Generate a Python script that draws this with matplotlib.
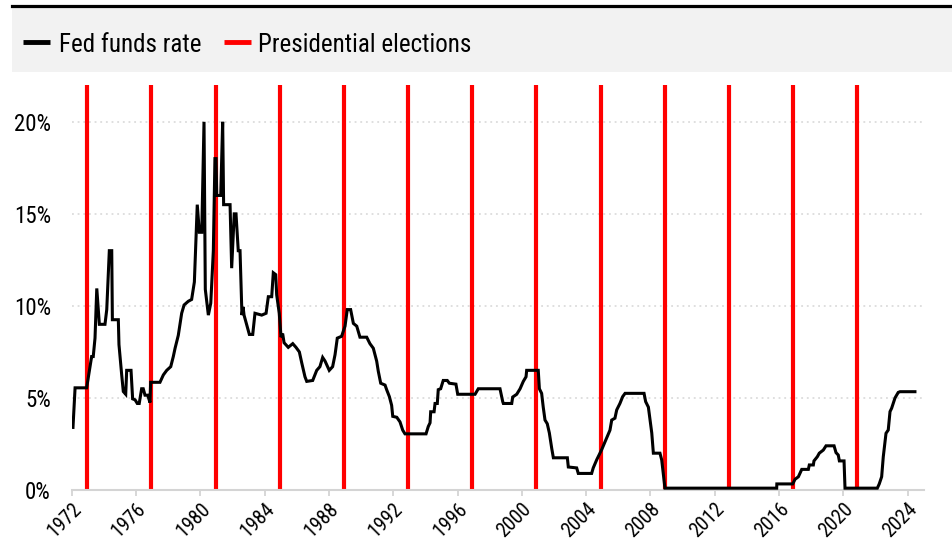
import matplotlib
matplotlib.use("Agg")
import matplotlib.pyplot as plt
from matplotlib import font_manager as fm
from matplotlib.lines import Line2D
from matplotlib.patches import Rectangle

# ---------------- data ----------------
dates = [1972.08, 1972.21, 1972.93, 1973.14, 1973.24, 1973.34, 1973.45, 1973.56, 1973.72,
         1974.07, 1974.18, 1974.34, 1974.49, 1974.53, 1974.90, 1974.94, 1975.11, 1975.21,
         1975.36, 1975.42, 1975.69, 1975.79, 1975.94, 1976.08, 1976.20, 1976.35, 1976.45,
         1976.56, 1976.73, 1976.87, 1976.91, 1977.49, 1977.70, 1977.91, 1978.16, 1978.32,
         1978.43, 1978.63, 1978.84, 1978.99, 1979.25, 1979.46, 1979.63, 1979.81, 1979.94,
         1980.09, 1980.23, 1980.31, 1980.50, 1980.65, 1980.81, 1980.91, 1980.98, 1981.02,
         1981.27, 1981.39, 1981.45, 1981.85, 1981.95, 1982.11, 1982.22, 1982.36, 1982.47,
         1982.59, 1982.66, 1982.72, 1983.05, 1983.26, 1983.40, 1983.82, 1984.09, 1984.23,
         1984.44, 1984.54, 1984.69, 1984.75, 1984.91, 1985.02, 1985.12, 1985.21, 1985.47,
         1985.75, 1985.95, 1986.16, 1986.31, 1986.51, 1986.62, 1986.99, 1987.24, 1987.44,
         1987.61, 1987.76, 1988.02, 1988.23, 1988.38, 1988.52, 1988.79, 1989.00, 1989.14,
         1989.35, 1989.52, 1989.73, 1989.93, 1990.35, 1990.55, 1990.76, 1990.97, 1991.07,
         1991.22, 1991.49, 1991.59, 1991.76, 1991.90, 1991.97, 1992.22, 1992.42, 1992.59,
         1992.73, 1994.04, 1994.18, 1994.29, 1994.33, 1994.54, 1994.60, 1994.74, 1994.80,
         1994.95, 1995.11, 1995.36, 1995.49, 1995.90, 1996.01, 1997.09, 1997.29, 1998.54,
         1998.64, 1998.81, 1998.85, 1999.37, 1999.43, 1999.68, 1999.89, 2000.09, 2000.26,
         2000.30, 2001.02, 2001.09, 2001.23, 2001.33, 2001.44, 2001.58, 2001.71, 2001.86,
         2001.96, 2002.83, 2002.89, 2003.41, 2003.51, 2004.34, 2004.44, 2004.66, 2004.97,
         2005.48, 2005.59, 2005.79, 2005.90, 2006.10, 2006.27, 2006.42, 2007.60, 2007.70,
         2007.87, 2008.08, 2008.18, 2008.59, 2008.70, 2008.90, 2015.85, 2015.86, 2016.85,
         2016.99, 2017.20, 2017.41, 2017.82, 2017.88, 2018.13, 2018.17, 2018.38, 2018.50,
         2018.75, 2018.92, 2019.42, 2019.54, 2019.68, 2019.75, 2020.04, 2020.10, 2022.11,
         2022.23, 2022.38, 2022.48, 2022.65, 2022.79, 2022.90, 2023.00, 2023.21, 2023.41,
         2023.52, 2024.45]
fed_funds_rate = [3.4, 5.55, 5.55, 6.7, 7.25, 7.25, 8.25, 10.95, 9.0,
                  9.0, 9.8, 13.0, 13.0, 9.25, 9.25, 7.9, 6.25, 5.35,
                  5.2, 6.5, 6.5, 4.95, 4.9, 4.7, 4.7, 5.5, 5.5,
                  5.15, 5.15, 4.75, 5.85, 5.85, 6.25, 6.5, 6.7, 7.25,
                  7.7, 8.4, 9.6, 10.05, 10.25, 10.35, 11.3, 15.5, 14.0,
                  14.0, 20.0, 10.9, 9.5, 10.15, 13.0, 18.0, 18.0, 16.0,
                  16.0, 20.0, 15.5, 15.5, 12.05, 15.0, 15.0, 13.0, 13.0,
                  9.5, 9.95, 9.5, 8.45, 8.45, 9.6, 9.5, 9.6, 10.5,
                  10.5, 11.8, 11.7, 10.6, 9.6, 8.3, 8.5, 8.0, 7.75,
                  7.95, 7.75, 7.5, 6.9, 6.15, 5.9, 5.95, 6.5, 6.7,
                  7.2, 7.0, 6.5, 6.7, 7.35, 8.25, 8.35, 8.9, 9.8,
                  9.8, 9.05, 8.9, 8.3, 8.3, 7.95, 7.7, 7.0, 6.45,
                  5.8, 5.7, 5.45, 5.07, 4.6, 4.0, 3.95, 3.7, 3.25,
                  3.05, 3.05, 3.45, 3.65, 4.25, 4.25, 4.7, 4.7, 5.45,
                  5.5, 5.95, 5.95, 5.8, 5.75, 5.2, 5.2, 5.5, 5.5,
                  5.5, 4.8, 4.7, 4.7, 5.05, 5.2, 5.5, 5.9, 6.15,
                  6.5, 6.5, 5.5, 5.25, 4.5, 3.8, 3.6, 3.1, 2.25,
                  1.75, 1.75, 1.25, 1.2, 0.9, 0.9, 1.2, 1.65, 2.2,
                  3.25, 3.8, 3.9, 4.35, 4.7, 5.07, 5.25, 5.25, 4.8,
                  4.5, 3.1, 2.0, 2.0, 1.63, 0.1, 0.1, 0.33, 0.33,
                  0.58, 0.72, 1.12, 1.12, 1.36, 1.36, 1.58, 1.81, 2.0,
                  2.17, 2.4, 2.4, 2.03, 1.9, 1.58, 1.58, 0.1, 0.1,
                  0.33, 0.72, 1.8, 3.08, 3.26, 4.26, 4.44, 5.0, 5.3,
                  5.34, 5.34]
election_dates = [1972.96, 1976.95, 1980.95, 1984.94, 1988.93, 1992.93, 1996.92,
                  2000.91, 2004.91, 2008.90, 2012.89, 2016.88, 2020.87]
x_tick_years = list(range(1972, 2025, 4))
y_ticks = [0, 5, 10, 15, 20]
y_tick_labels = ["0%", "5%", "10%", "15%", "20%"]
series_names = ["Fed funds rate", "Presidential elections"]

# ---------------- font ----------------
names = {f.name for f in fm.fontManager.ttflist}
FONT = "DejaVu Sans"
for cand in ["Liberation Sans Narrow", "Roboto Condensed", "Open Sans Condensed", "Roboto",
             "Liberation Sans"]:
    if cand in names:
        FONT = cand
        break
plt.rcParams["font.family"] = [FONT, "DejaVu Sans"]

W, H = 952, 546
fig = plt.figure(figsize=(W / 100, H / 100), dpi=100)
fig.patch.set_facecolor("white")

def fx(px):
    return px / W

def fy(py):
    return 1 - py / H

# header band
fig.patches.append(Rectangle((fx(12), fy(72)), fx(W - 12), 64 / H,
                             transform=fig.transFigure, facecolor="#f2f2f2",
                             edgecolor="none", zorder=0))
fig.lines.append(Line2D([fx(12), 1.0], [fy(6), fy(6)], transform=fig.transFigure,
                        color="black", lw=2.3))
# legend
fig.lines.append(Line2D([fx(23), fx(50)], [fy(42.5), fy(42.5)], transform=fig.transFigure,
                        color="black", lw=3.5, solid_capstyle="butt"))
fig.text(fx(59), fy(42.5), series_names[0], fontsize=18, va="center_baseline", ha="left")
fig.lines.append(Line2D([fx(224), fx(251)], [fy(42.5), fy(42.5)], transform=fig.transFigure,
                        color="#ff0000", lw=3.5, solid_capstyle="butt"))
fig.text(fx(258), fy(42.5), series_names[1], fontsize=18, va="center_baseline", ha="left")

# axes
x0, x1 = 71.7, 923.6
y0, y1 = 490, 85
ax = fig.add_axes([fx(x0), fy(y0), (x1 - x0) / W, (y0 - y1) / H])
ax.set_facecolor("white")
ax.set_xlim(1972.0, 1972.0 + (x1 - x0) / 16.077)
ax.set_ylim(0, 22)

for d in election_dates:
    ax.axvline(d, color="#ff0000", lw=3.0, zorder=2)
ax.plot(dates, fed_funds_rate, color="black", lw=2.2, zorder=3,
        solid_joinstyle="miter")

ax.set_yticks(y_ticks)
ax.set_yticklabels(y_tick_labels)
ax.set_xticks(x_tick_years)
ax.set_xticklabels([str(y) for y in x_tick_years], rotation=45, ha="right",
                   rotation_mode="anchor")
ax.tick_params(axis="y", length=0, pad=15, labelsize=16.5, colors="black")
ax.tick_params(axis="x", length=4, width=1.3, color="#d4d4d4", pad=3, labelsize=14.5,
               labelcolor="black")
ax.yaxis.grid(True, color="#d6d6d6", linestyle=(0, (1.2, 2.5)), lw=1.1)
ax.set_axisbelow(True)
for s in ["left", "right", "top"]:
    ax.spines[s].set_visible(False)
ax.spines["bottom"].set_color("#d4d4d4")
ax.spines["bottom"].set_linewidth(1.5)

fig.savefig("out.png", dpi=100)
